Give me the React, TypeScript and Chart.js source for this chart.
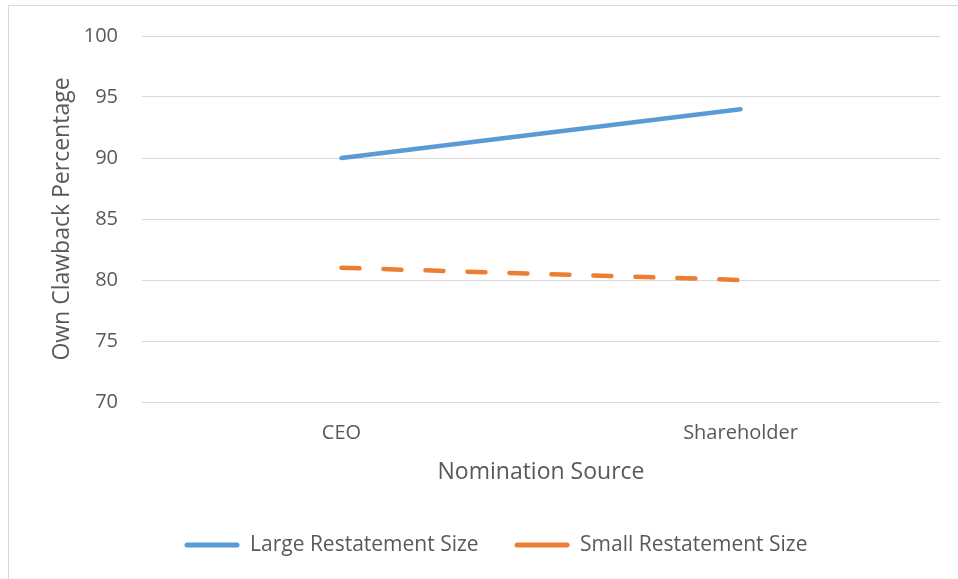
import React, { useEffect, useRef } from "react";
import { Chart, registerables } from "chart.js";

Chart.register(...registerables);

const categories = ["CEO", "Shareholder"];
const largeRestatement = [90, 94];
const smallRestatement = [81, 80];
const seriesNames = ["Large Restatement Size", "Small Restatement Size"];
const yTitle = "Own Clawback Percentage";
const xTitle = "Nomination Source";
const yMin = 70;
const yMax = 100;
const yStep = 5;

const BLUE = "#5B9BD5";
const ORANGE = "#ED7D31";
const TEXT = "#595959";
const GRID = "#D9D9D9";
const FONT = "'Open Sans', sans-serif";

const legendShift = {
  id: "legendShift",
  afterLayout(chart: any) {
    const lg = chart.legend;
    if (lg) {
      lg.left += 26;
      lg.right += 26;
    }
  },
};

export default function App() {
  const ref = useRef<HTMLCanvasElement | null>(null);

  useEffect(() => {
    if (!ref.current) return;
    const chart = new Chart(ref.current, {
      type: "line",
      data: {
        labels: categories,
        datasets: [
          {
            label: seriesNames[0],
            data: largeRestatement,
            borderColor: BLUE,
            backgroundColor: BLUE,
            borderWidth: 4.5,
            borderCapStyle: "round",
            pointRadius: 0,
            tension: 0,
          },
          {
            label: seriesNames[1],
            data: smallRestatement,
            borderColor: ORANGE,
            backgroundColor: ORANGE,
            borderWidth: 4.5,
            borderCapStyle: "round",
            borderDash: [18, 24],
            pointRadius: 0,
            tension: 0,
          },
        ],
      },
      plugins: [legendShift],
      options: {
        animation: false,
        responsive: false,
        maintainAspectRatio: false,
        layout: { padding: { top: 35, right: 18, left: 0, bottom: 13.5 } },
        plugins: {
          tooltip: { enabled: false },
          legend: {
            position: "bottom",
            labels: {
              color: TEXT,
              font: { family: FONT, size: 21 },
              boxWidth: 55,
              boxHeight: 5,
              padding: 36,
              generateLabels: (c: any) =>
                c.data.datasets.map((ds: any, i: number) => ({
                  text: ds.label,
                  fillStyle: ds.borderColor,
                  strokeStyle: ds.borderColor,
                  lineWidth: 0,
                  lineDash: [],
                  borderRadius: 2.5,
                  fontColor: TEXT,
                  hidden: false,
                  datasetIndex: i,
                })),
            },
          },
        },
        scales: {
          x: {
            offset: true,
            grid: { display: false, drawTicks: false },
            border: { display: false },
            ticks: { color: TEXT, font: { family: FONT, size: 20 }, padding: 19 },
            title: {
              display: true,
              text: xTitle,
              color: TEXT,
              font: { family: FONT, size: 23 },
              padding: { top: 0, bottom: 12.7 },
            },
            afterFit: (s: any) => {
              s.height = 96.5;
            },
          },
          y: {
            min: yMin,
            max: yMax,
            grid: { color: GRID, lineWidth: 1, drawTicks: false },
            border: { display: false },
            ticks: {
              stepSize: yStep,
              color: TEXT,
              font: { family: FONT, size: 20 },
              padding: 24,
            },
            title: {
              display: true,
              text: yTitle,
              color: TEXT,
              font: { family: FONT, size: 23 },
              padding: { top: 48.2, bottom: 0 },
            },
            afterFit: (s: any) => {
              s.width = 142;
            },
          },
        },
      },
    });
    return () => chart.destroy();
  }, []);

  return (
    <div style={{ position: "fixed", left: 0, top: 0, width: 958, height: 579, background: "#fff", overflow: "hidden" }}>
      <div
        style={{
          position: "absolute",
          left: 8,
          top: 5,
          width: 1000,
          height: 700,
          border: "1.5px solid #D9D9D9",
        }}
      />
      <canvas ref={ref} width={958} height={579} style={{ position: "absolute", left: 0, top: 0, width: 958, height: 579 }} />
    </div>
  );
}
